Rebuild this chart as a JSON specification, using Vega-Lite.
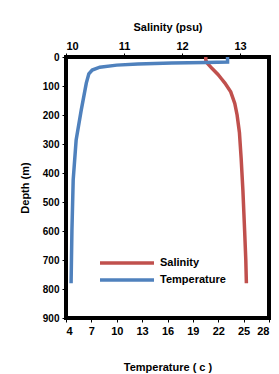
{
  "$schema": "https://vega.github.io/schema/vega-lite/v6.json",
  "width": 203,
  "height": 261,
  "autosize": {"type": "none"},
  "padding": {"left": 66, "top": 57, "right": 10, "bottom": 56},
  "background": "white",
  "config": {
    "font": "Liberation Sans",
    "view": {"stroke": "black", "strokeWidth": 4},
    "axis": {
      "grid": false,
      "domain": false,
      "tickColor": "black",
      "tickSize": 4,
      "labelOverlap": false,
      "labelFont": "Liberation Sans",
      "labelFontWeight": "bold",
      "labelFontSize": 11,
      "labelColor": "black",
      "titleFont": "Liberation Sans",
      "titleFontWeight": "bold",
      "titleFontSize": 11,
      "titleColor": "black"
    }
  },
  "datasets": {
    "sal": [
      {"depth": 0, "v": 12.41},
      {"depth": 10, "v": 12.41},
      {"depth": 20, "v": 12.43},
      {"depth": 40, "v": 12.52},
      {"depth": 60, "v": 12.62},
      {"depth": 75, "v": 12.68},
      {"depth": 90, "v": 12.74},
      {"depth": 120, "v": 12.84},
      {"depth": 160, "v": 12.91},
      {"depth": 200, "v": 12.95},
      {"depth": 260, "v": 12.99},
      {"depth": 350, "v": 13.02},
      {"depth": 460, "v": 13.05},
      {"depth": 600, "v": 13.08},
      {"depth": 700, "v": 13.10},
      {"depth": 780, "v": 13.11}
    ],
    "temp": [
      {"depth": 0, "v": 23.1},
      {"depth": 17, "v": 23.1},
      {"depth": 19, "v": 20.5},
      {"depth": 21, "v": 16.5},
      {"depth": 24, "v": 12.5},
      {"depth": 28, "v": 10.0},
      {"depth": 35, "v": 8.0},
      {"depth": 45, "v": 7.1},
      {"depth": 58, "v": 6.7},
      {"depth": 90, "v": 6.4},
      {"depth": 183, "v": 5.8},
      {"depth": 286, "v": 5.2},
      {"depth": 424, "v": 4.85},
      {"depth": 600, "v": 4.7},
      {"depth": 780, "v": 4.6}
    ]
  },
  "layer": [
    {
      "data": {"name": "sal"},
      "transform": [{"calculate": "'Salinity'", "as": "series"}],
      "mark": {"type": "line", "strokeWidth": 3.5, "strokeCap": "butt"},
      "encoding": {
        "x": {
          "field": "v", "type": "quantitative",
          "scale": {"domain": [10, 13.5], "nice": false, "zero": false},
          "axis": {"orient": "top", "values": [10, 11, 12, 13], "title": "Salinity (psu)", "titlePadding": 8, "labelPadding": 2}
        },
        "y": {
          "field": "depth", "type": "quantitative",
          "scale": {"domain": [0, 900], "reverse": true, "nice": false},
          "axis": {"values": [0,100,200,300,400,500,600,700,800,900], "labelOverlap": false, "title": "Depth (m)", "titlePadding": 12, "labelPadding": 3, "labelFontSize": 10}
        },
        "order": {"field": "depth", "type": "quantitative"},
        "color": {
          "field": "series", "type": "nominal",
          "scale": {"domain": ["Salinity", "Temperature"], "range": ["#C0504D", "#4F81BD"]},
          "legend": {
            "orient": "none", "legendX": 54, "legendY": 199, "title": null, "padding": 0,
            "symbolType": "M-5.4,0H5.4", "symbolSize": 100, "symbolStrokeWidth": 3.5,
            "labelFont": "Liberation Sans", "labelFontWeight": "bold", "labelFontSize": 11, "labelColor": "black",
            "rowPadding": 3, "labelOffset": 26
          }
        }
      }
    },
    {
      "data": {"name": "temp"},
      "transform": [{"calculate": "'Temperature'", "as": "series"}],
      "mark": {"type": "line", "strokeWidth": 3.5, "strokeCap": "butt"},
      "encoding": {
        "x": {
          "field": "v", "type": "quantitative",
          "scale": {"domain": [4, 28], "nice": false, "zero": false},
          "axis": {"orient": "bottom", "values": [4,7,10,13,16,19,22,25,28], "title": "Temperature ( c )", "titlePadding": 25, "labelPadding": 3}
        },
        "y": {
          "field": "depth", "type": "quantitative",
          "axis": {"values": [0,100,200,300,400,500,600,700,800,900], "labelOverlap": false, "title": "Depth (m)", "titlePadding": 12, "labelPadding": 3, "labelFontSize": 10}
        },
        "order": {"field": "depth", "type": "quantitative"},
        "color": {"field": "series", "type": "nominal"}
      }
    }
  ],
  "resolve": {"scale": {"x": "independent"}}
}
